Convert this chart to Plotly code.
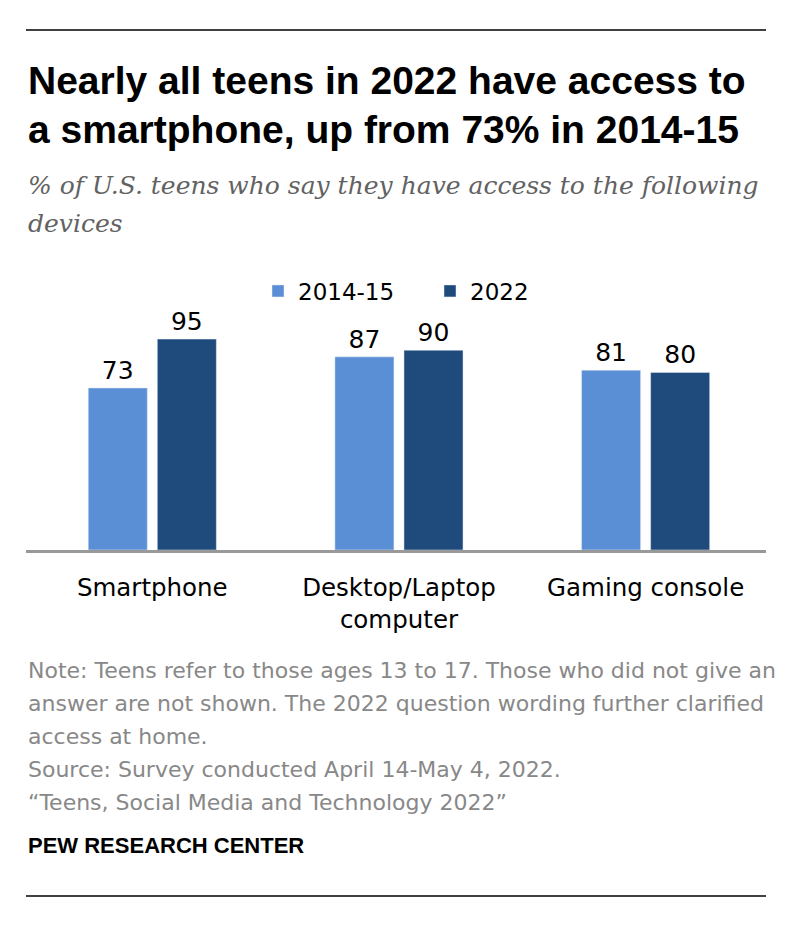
import plotly.graph_objects as go

categories = ["Smartphone", "Desktop/Laptop<br>computer", "Gaming console"]
series_names = ["2014-15", "2022"]
values_2014 = [73, 87, 81]
values_2022 = [95, 90, 80]
colors = ["#5b8fd5", "#1f4a7c"]

title_lines = ["Nearly all teens in 2022 have access to",
               "a smartphone, up from 73% in 2014-15"]
subtitle_lines = ["% of U.S. teens who say they have access to the following",
                  "devices"]
note_lines = ["Note: Teens refer to those ages 13 to 17. Those who did not give an",
              "answer are not shown. The 2022 question wording further clarified",
              "access at home.",
              "Source: Survey conducted April 14-May 4, 2022.",
              "\u201cTeens, Social Media and Technology 2022\u201d"]
credit = "PEW RESEARCH CENTER"

W, H = 806, 936
PLOT_TOP, PLOT_BOTTOM = 328, 550
LEFT, RIGHT = 26, 766
PH = PLOT_BOTTOM - PLOT_TOP


def py(y):
    return (PLOT_BOTTOM - y) / PH


def px(x):
    return (x - LEFT) / (RIGHT - LEFT)


body = "DejaVu Sans"

fig = go.Figure()
for name, vals, col in zip(series_names, [values_2014, values_2022], colors):
    fig.add_trace(go.Bar(
        x=categories, y=vals, name=name, marker_color=col,
        text=vals, textposition="outside", cliponaxis=False,
        textfont=dict(family=body, size=25, color="#000000"),
        hoverinfo="skip",
    ))

ann = []
for i, t in enumerate(title_lines):
    ann.append(dict(text="<b>%s</b>" % t, x=0, y=py([80.5, 129][i]), xref="paper", yref="paper",
                    xanchor="left", yanchor="middle", showarrow=False,
                    font=dict(family="Liberation Sans", size=39, color="#000000")))
for i, t in enumerate(subtitle_lines):
    ann.append(dict(text="<i>%s</i>" % t, x=0, y=py([185.5, 223.5][i]), xref="paper", yref="paper",
                    xanchor="left", yanchor="middle", showarrow=False,
                    font=dict(family="DejaVu Serif", size=25, color="#626262")))
for i, t in enumerate(note_lines):
    ann.append(dict(text=t, x=0, y=py(670 + 33 * i), xref="paper", yref="paper",
                    xanchor="left", yanchor="middle", showarrow=False,
                    font=dict(family=body, size=22, color="#888888")))
ann.append(dict(text="<b>%s</b>" % credit, x=0, y=py(845), xref="paper", yref="paper",
                xanchor="left", yanchor="middle", showarrow=False,
                font=dict(family="Liberation Sans", size=22, color="#000000")))

shapes = [
    dict(type="line", xref="paper", yref="paper", x0=0, x1=1, y0=py(30), y1=py(30),
         line=dict(color="#000000", width=1.5)),
    dict(type="line", xref="paper", yref="paper", x0=0, x1=1, y0=py(896), y1=py(896),
         line=dict(color="#000000", width=1.5)),
]

fig.update_layout(
    width=W, height=H,
    margin=dict(l=LEFT, r=W - RIGHT, t=PLOT_TOP, b=H - PLOT_BOTTOM, pad=0),
    paper_bgcolor="#ffffff", plot_bgcolor="#ffffff",
    barmode="group", bargap=0.44, bargroupgap=0.145,
    showlegend=True,
    legend=dict(orientation="h", x=px(258), y=py(291), xanchor="left", yanchor="middle",
                font=dict(family=body, size=23, color="#000000"),
                entrywidth=127, entrywidthmode="pixels", bgcolor="rgba(0,0,0,0)",
                itemclick=False, itemdoubleclick=False),
    xaxis=dict(range=[-0.512, 2.488], showline=True, linecolor="#999999", linewidth=3,
               showgrid=False, zeroline=False, ticks="outside", ticklen=14,
               tickcolor="rgba(0,0,0,0)",
               tickfont=dict(family=body, size=24.5, color="#000000"), fixedrange=True),
    yaxis=dict(range=[0, 100], visible=False, fixedrange=True),
    annotations=ann, shapes=shapes,
    font=dict(family=body),
)

fig.write_html("out.html", config={"displayModeBar": False},
               post_script="document.body.style.margin='0px';document.body.style.overflow='hidden';")
